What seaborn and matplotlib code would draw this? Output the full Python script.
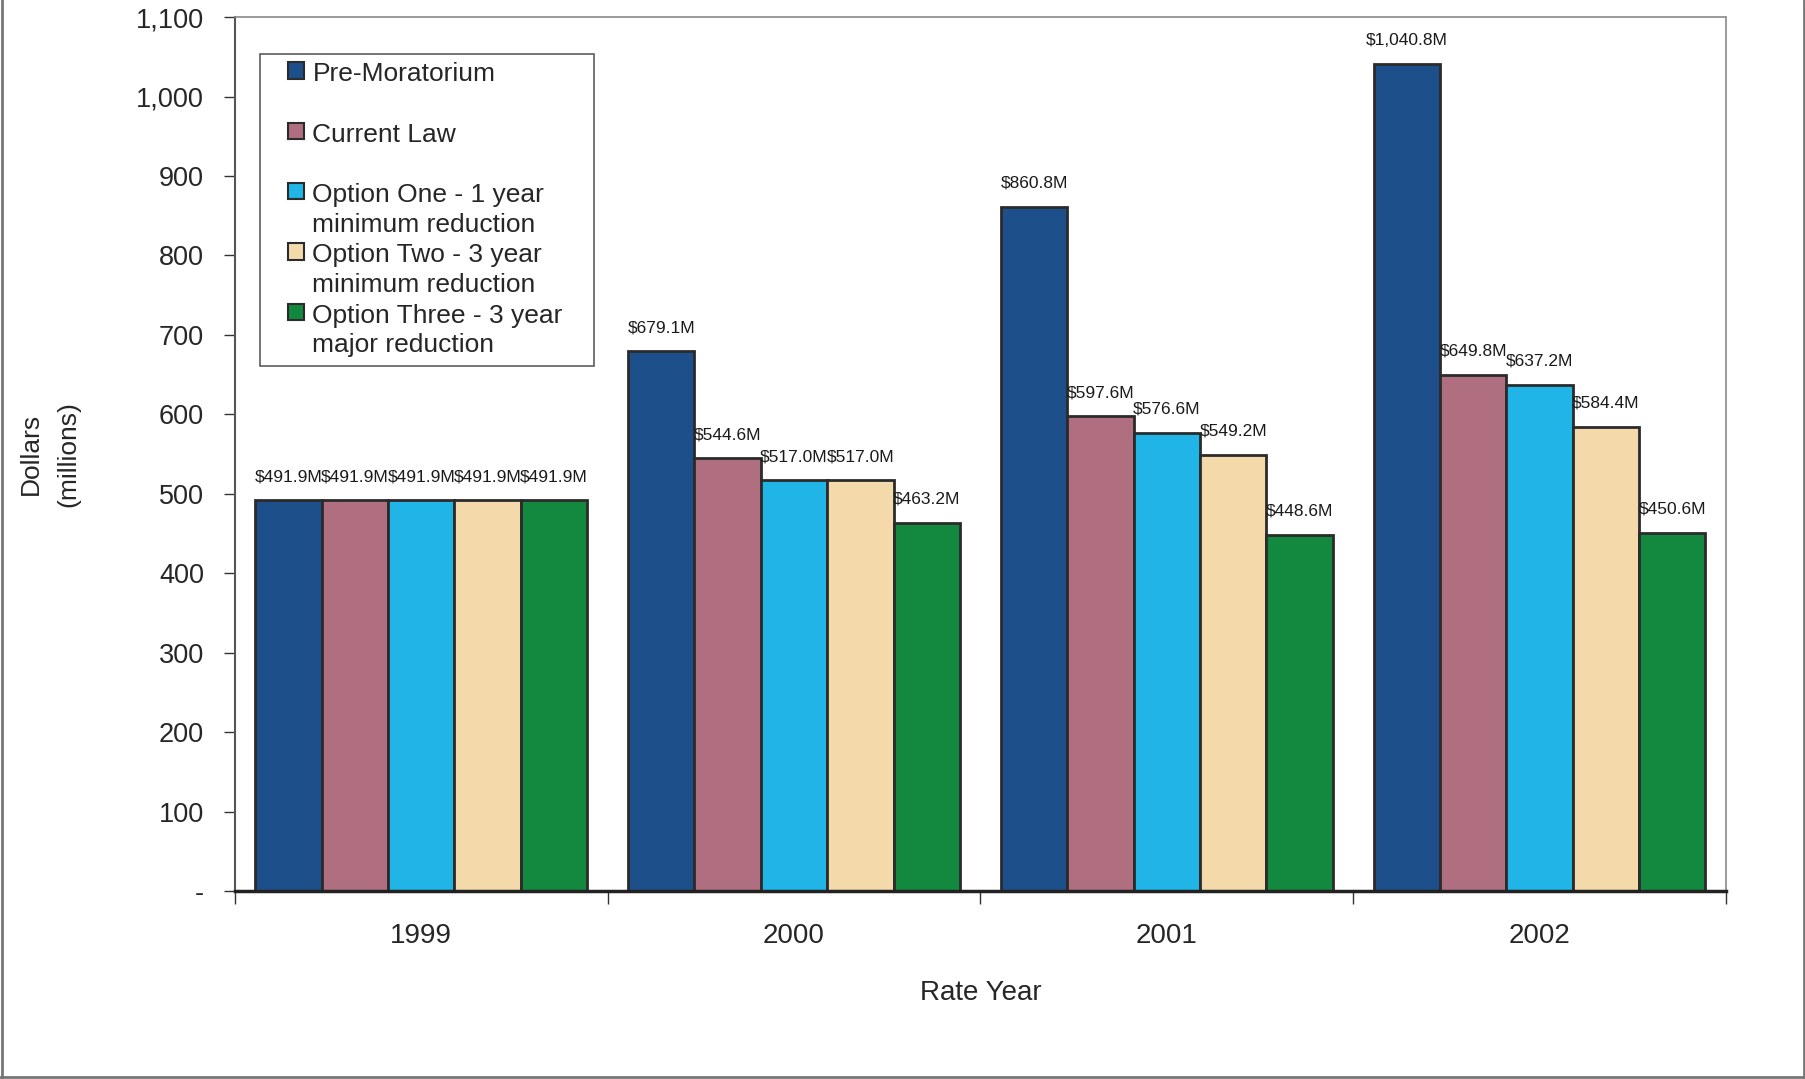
# -*- coding: utf-8 -*-
"""
Revenus par année tarifaire : pré-moratoire, loi actuelle et trois options.
"""

import matplotlib.pyplot as plt
from matplotlib.legend_handler import HandlerPatch
from matplotlib.lines import Line2D
from matplotlib.patches import Rectangle
from matplotlib.ticker import FixedLocator
import pandas as pd
import seaborn as sns

# ---------------------------------------------------------------------------
# Données
# ---------------------------------------------------------------------------
YEARS = ["1999", "2000", "2001", "2002"]
SCENARIOS = [
    "Pre-Moratorium",
    "Current Law",
    "Option One",
    "Option Two",
    "Option Three",
]
LEGEND_LABELS = [
    "Pre-Moratorium\n ",
    "Current Law\n ",
    "Option One - 1 year\nminimum reduction",
    "Option Two - 3 year\nminimum reduction",
    "Option Three - 3 year   \nmajor reduction",
]
PRE_MORATORIUM = [491.9, 679.1, 860.8, 1040.8]
CURRENT_LAW = [491.9, 544.6, 597.6, 649.8]
OPTION_ONE = [491.9, 517.0, 576.6, 637.2]
OPTION_TWO = [491.9, 517.0, 549.2, 584.4]
OPTION_THREE = [491.9, 463.2, 448.6, 450.6]

Y_TICKS = [0, 100, 200, 300, 400, 500, 600, 700, 800, 900, 1000, 1100]
Y_TICK_LABELS = ["-", "100", "200", "300", "400", "500", "600", "700",
                 "800", "900", "1,000", "1,100"]

COULEURS = {
    "Pre-Moratorium": "#1d4f8a",
    "Current Law":    "#b06f80",
    "Option One":     "#21b4e6",
    "Option Two":     "#f4d9aa",
    "Option Three":   "#13883f",
}

sns.set_theme(style="white")
plt.rcParams["font.family"] = ["Liberation Sans", "DejaVu Sans"]

series = [PRE_MORATORIUM, CURRENT_LAW, OPTION_ONE, OPTION_TWO, OPTION_THREE]
df = pd.DataFrame(
    [
        {"year": y, "scenario": s, "value": v}
        for s, vals in zip(SCENARIOS, series)
        for y, v in zip(YEARS, vals)
    ]
)


def carre_legende(legend, orig_handle, xdescent, ydescent, width, height, fontsize):
    """Petit carré poussé vers la droite de la zone du symbole."""
    return Rectangle((width - height - xdescent, -ydescent), height, height)


# ---------------------------------------------------------------------------
# Figure
# ---------------------------------------------------------------------------
fig = plt.figure(figsize=(18.06, 10.79), dpi=100)
ax = fig.add_axes([0.130, 0.1742, 0.8257, 0.810])

sns.barplot(
    data=df, x="year", y="value", hue="scenario",
    order=YEARS, hue_order=SCENARIOS, palette=COULEURS,
    width=0.89, saturation=1, edgecolor="#2b2b2b", linewidth=2,
    errorbar=None, ax=ax,
)

# étiquettes de valeurs au-dessus des barres
for cont in ax.containers:
    for bar in cont:
        h = bar.get_height()
        ax.annotate(
            f"${h:,.1f}M",
            (bar.get_x() + bar.get_width() / 2, h),
            xytext=(0, 17), textcoords="offset points",
            ha="center", va="center", fontsize=12.5, color="#1a1a1a",
        )

ax.set_xlim(-0.5, 3.5)
ax.set_ylim(0, 1100)
ax.set_yticks(Y_TICKS)
ax.set_yticklabels(Y_TICK_LABELS)
ax.tick_params(axis="y", direction="out", length=8, width=1, color="#333333",
               labelsize=19.5, pad=14, left=True)

# repères de catégories aux limites, libellés au centre
ax.xaxis.set_minor_locator(FixedLocator([-0.5, 0.5, 1.5, 2.5, 3.5]))
ax.tick_params(axis="x", which="major", length=0, labelsize=20, pad=23)
ax.tick_params(axis="x", which="minor", direction="out", length=9, width=1,
               color="#333333", bottom=True)

ax.set_xlabel("Rate Year", fontsize=20, labelpad=22)
ax.set_ylabel("Dollars\n(millions)", fontsize=19, labelpad=40, linespacing=1.7)

for cote in ["top", "right"]:
    ax.spines[cote].set_color("#8a8a8a")
    ax.spines[cote].set_linewidth(1.2)
    ax.spines[cote].set_linestyle((0, (2, 1)))
ax.spines["left"].set_color("#555555")
ax.spines["left"].set_linewidth(1.5)
ax.spines["bottom"].set_color("#222222")
ax.spines["bottom"].set_linewidth(2.5)

handles, _ = ax.get_legend_handles_labels()
leg = ax.legend(
    handles, LEGEND_LABELS,
    loc="upper left", bbox_to_anchor=(0.017, 0.958), borderaxespad=0,
    fontsize=19, frameon=True, fancybox=False, edgecolor="#333333",
    handlelength=1.35, handleheight=0.57, handletextpad=0.3,
    labelspacing=0.25, borderpad=0.33,
    handler_map={Rectangle: HandlerPatch(patch_func=carre_legende)},
)
leg.get_frame().set_linewidth(1.2)
for t in leg.get_texts():
    t.set_linespacing(1.3)
for h in leg.legend_handles:
    h.set_edgecolor("#2b2b2b")
    h.set_linewidth(1.5)
# symbole aligné sur la première ligne du libellé
for colonne in leg._legend_handle_box.get_children():
    for item in colonne.get_children():
        item.align = "top"

# cadre de la page scannée (gauche, bas, droite)
for xs, ys in [([0.001, 0.001], [0.0, 1.0]),
               ([0.0, 1.0], [0.002, 0.002]),
               ([0.999, 0.999], [0.0, 1.0])]:
    fig.add_artist(Line2D(xs, ys, transform=fig.transFigure,
                          color="#777777", linewidth=2))

fig.savefig("out.png", dpi=100)
plt.close(fig)
